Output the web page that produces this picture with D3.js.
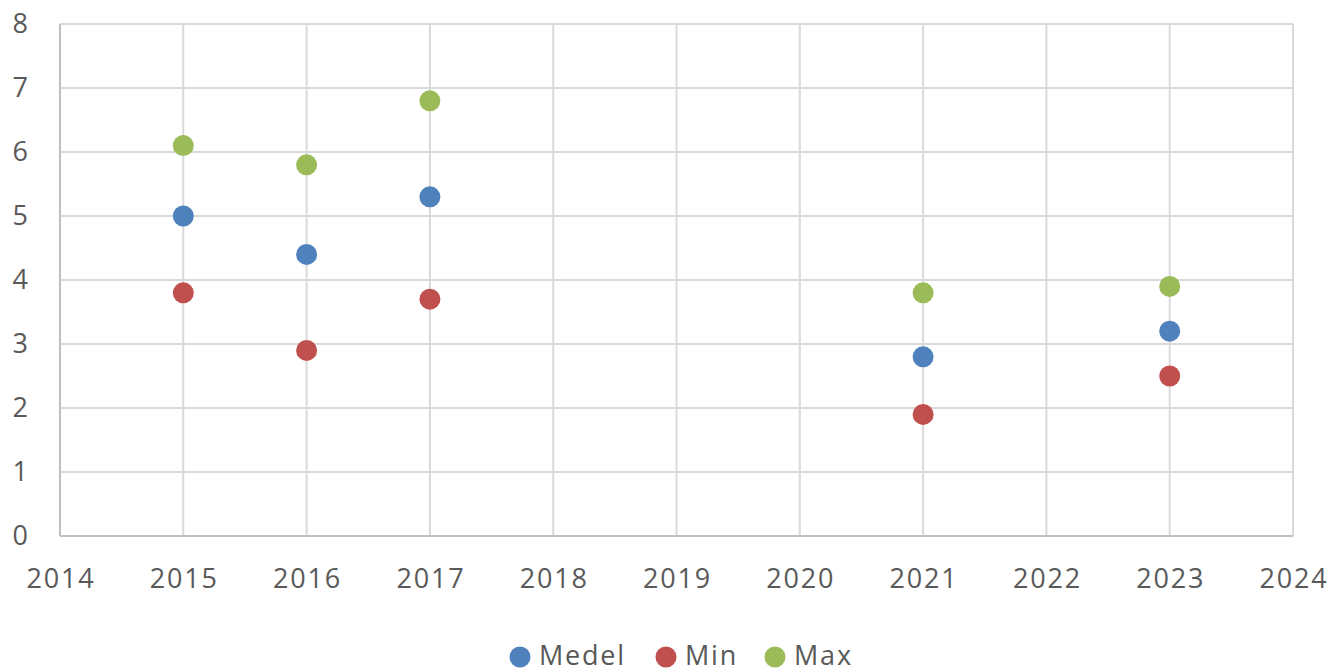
<!DOCTYPE html>
<html>
<head>
<meta charset="utf-8">
<script src="https://cdn.jsdelivr.net/npm/d3@7"></script>
<style>
  body { margin: 0; background: #fff; }
  text { font-family: "Open Sans", "Liberation Sans", sans-serif; fill: #595959; }
</style>
</head>
<body>
<svg id="chart" width="1331" height="670"></svg>
<script>
// data
let years = [2015, 2016, 2017, 2021, 2023];
let medel = [5.0, 4.4, 5.3, 2.8, 3.2];
let minV  = [3.8, 2.9, 3.7, 1.9, 2.5];
let maxV  = [6.1, 5.8, 6.8, 3.8, 3.9];
let xTicks = [2014, 2015, 2016, 2017, 2018, 2019, 2020, 2021, 2022, 2023, 2024];
let yTicks = [0, 1, 2, 3, 4, 5, 6, 7, 8];

let series = [
  {name: "Medel", values: medel, color: "#4f81bd"},
  {name: "Min", values: minV, color: "#c0504d"},
  {name: "Max", values: maxV, color: "#9bbb59"}
];

let margin = {top: 24, right: 38, bottom: 134, left: 60};
let width = 1331, height = 670;
let fontSize = "27px";
let spacing = "1.8px";

let svg = d3.select("#chart");

let x = d3.scaleLinear().domain([2014, 2024]).range([margin.left, width - margin.right]);
let y = d3.scaleLinear().domain([0, 8]).range([height - margin.bottom, margin.top]);

// gridlines
svg.append("g")
  .selectAll("line")
  .data(yTicks)
  .join("line")
  .attr("x1", x(2014)).attr("x2", x(2024))
  .attr("y1", d => y(d)).attr("y2", d => y(d))
  .attr("stroke", "#d9d9d9").attr("stroke-width", 2);

svg.append("g")
  .selectAll("line")
  .data(xTicks)
  .join("line")
  .attr("x1", d => x(d)).attr("x2", d => x(d))
  .attr("y1", y(0)).attr("y2", y(8))
  .attr("stroke", "#d9d9d9").attr("stroke-width", 2);

// axis lines
svg.append("line")
  .attr("x1", x(2014)).attr("x2", x(2024))
  .attr("y1", y(0)).attr("y2", y(0))
  .attr("stroke", "#bfbfbf").attr("stroke-width", 2);
svg.append("line")
  .attr("x1", x(2014)).attr("x2", x(2014))
  .attr("y1", y(0)).attr("y2", y(8))
  .attr("stroke", "#bfbfbf").attr("stroke-width", 2);

// tick labels
svg.append("g")
  .selectAll("text")
  .data(yTicks)
  .join("text")
  .attr("x", 28)
  .attr("y", d => y(d))
  .attr("dy", "0.35em")
  .attr("text-anchor", "end")
  .style("font-size", fontSize)
  .text(d => d);

svg.append("g")
  .selectAll("text")
  .data(xTicks)
  .join("text")
  .attr("x", d => x(d) + 1)
  .attr("y", 579)
  .attr("dy", "0.35em")
  .attr("text-anchor", "middle")
  .style("font-size", fontSize)
  .style("letter-spacing", spacing)
  .text(d => d);

// points
series.forEach(s => {
  svg.append("g")
    .selectAll("circle")
    .data(years.map((yr, i) => ({yr: yr, v: s.values[i]})))
    .join("circle")
    .attr("cx", d => x(d.yr))
    .attr("cy", d => y(d.v))
    .attr("r", 10.5)
    .attr("fill", s.color);
});

// legend
let legendX = [520, 666, 775];
let legend = svg.append("g");
series.forEach((s, i) => {
  legend.append("circle")
    .attr("cx", legendX[i]).attr("cy", 657)
    .attr("r", 10.5).attr("fill", s.color);
  legend.append("text")
    .attr("x", legendX[i] + 19).attr("y", 656)
    .attr("dy", "0.35em")
    .style("font-size", fontSize)
    .style("letter-spacing", spacing)
    .text(s.name);
});
</script>
</body>
</html>
